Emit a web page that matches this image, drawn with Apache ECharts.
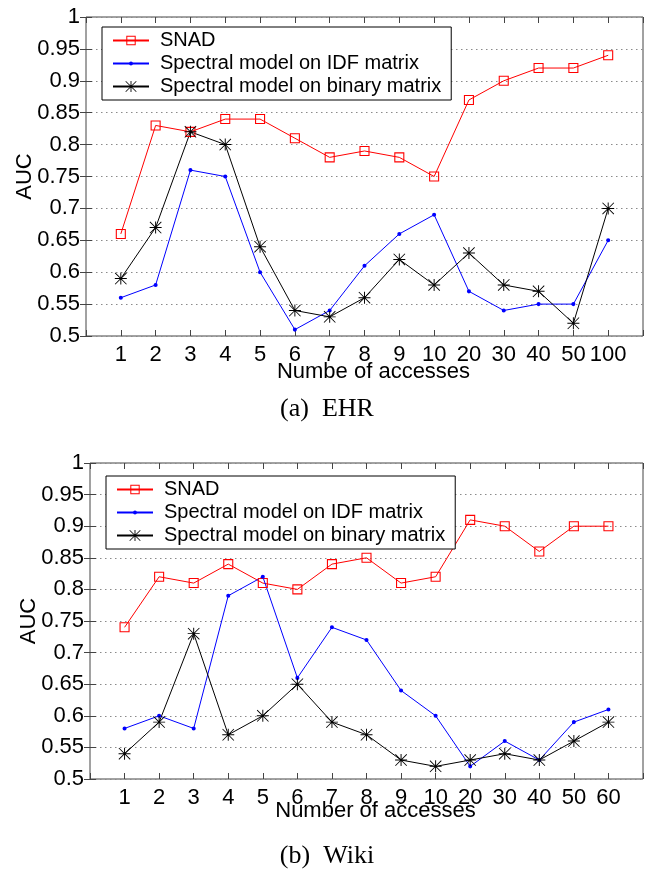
<!DOCTYPE html>
<html>
<head>
<meta charset="utf-8">
<script src="https://cdn.jsdelivr.net/npm/echarts@6/dist/echarts.min.js"></script>
<style>
html,body{margin:0;padding:0;background:#fff;}
#c{width:654px;height:877px;}
</style>
</head>
<body>
<div id="c"></div>
<script>
// ---- data ----
const catsEHR = ['1','2','3','4','5','6','7','8','9','10','20','30','40','50','100'];
const catsWiki = ['1','2','3','4','5','6','7','8','9','10','20','30','40','50','60'];
const seriesNames = ['SNAD','Spectral model on IDF matrix','Spectral model on binary matrix'];

const ehrSNAD   = [0.66,0.83,0.82,0.84,0.84,0.81,0.78,0.79,0.78,0.75,0.87,0.90,0.92,0.92,0.94];
const ehrIDF    = [0.56,0.58,0.76,0.75,0.60,0.51,0.54,0.61,0.66,0.69,0.57,0.54,0.55,0.55,0.65];
const ehrBinary = [0.59,0.67,0.82,0.80,0.64,0.54,0.53,0.56,0.62,0.58,0.63,0.58,0.57,0.52,0.70];

const wikiSNAD   = [0.74,0.82,0.81,0.84,0.81,0.80,0.84,0.85,0.81,0.82,0.91,0.90,0.86,0.90,0.90];
const wikiIDF    = [0.58,0.60,0.58,0.79,0.82,0.66,0.74,0.72,0.64,0.60,0.52,0.56,0.53,0.59,0.61];
const wikiBinary = [0.54,0.59,0.73,0.57,0.60,0.65,0.59,0.57,0.53,0.52,0.53,0.54,0.53,0.56,0.59];

const yMin = 0.5, yMax = 1, yStep = 0.05;
const xLabelTop = 'Numbe of accesses';
const xLabelBottom = 'Number of accesses';
const yLabel = 'AUC';
const captionTop = '(a)  EHR';
const captionBottom = '(b)  Wiki';

// ---- styling ----
const SANS = "'Liberation Sans', Arial, Helvetica, sans-serif";
const SERIF = "'Liberation Serif', 'Times New Roman', serif";
const AXC = '#444';
const squarePath = 'path://M0 0 L0.01 0 Z M100 100 L99.99 100 Z M8 8 L92 8 L92 92 L8 92 Z M17 17 L17 83 L83 83 L83 17 Z';
const dotPath = 'path://M0 0 L0.01 0 Z M100 100 L99.99 100 Z M50 33 A17 17 0 1 1 49.99 33 Z';
const starPath = 'path://M46 0 L54 0 L54 100 L46 100 Z M0 46 L100 46 L100 54 L0 54 Z M5 0 L100 95 L95 100 L0 5 Z M95 0 L100 5 L5 100 L0 95 Z';

function pairs(vals){ return vals.map((v,i)=>[i+1,v]); }

function xAxes(grid, cats, name, gap){
  const base = {
    gridIndex: grid, type:'value', min:0, max:cats.length+1, interval:1,
    axisLine:{show:false}, splitLine:{show:false},
    axisTick:{show:true, inside:true, length:6, lineStyle:{color:AXC}}
  };
  return [
    Object.assign({}, base, {
      position:'bottom',
      axisLabel:{show:true, margin:8, color:'#000', fontSize:22, fontFamily:SANS,
        formatter:(v)=> (v>=1 && v<=cats.length) ? cats[v-1] : ''},
      name:name, nameLocation:'middle', nameGap:gap, nameMoveOverlap:false,
      nameTextStyle:{color:'#000', fontSize:22, fontFamily:SANS, padding:[0,0,0,18]}
    }),
    Object.assign({}, base, {position:'top', axisLabel:{show:false}})
  ];
}
function yAxes(grid){
  const base = {
    gridIndex:grid, type:'value', min:yMin, max:yMax, interval:yStep,
    axisLine:{show:false},
    axisTick:{show:true, inside:true, length:6, lineStyle:{color:AXC}}
  };
  return [
    Object.assign({}, base, {
      position:'left',
      axisLabel:{show:true, margin:6, color:'#000', fontSize:22, fontFamily:SANS,
        formatter:(v)=> String(+v.toFixed(2))},
      splitLine:{show:true, lineStyle:{color:'#8a8a8a', width:1, type:[1.5,3.5]}},
      name:yLabel, nameLocation:'middle', nameGap:50, nameRotate:90, nameMoveOverlap:false,
      nameTextStyle:{color:'#000', fontSize:22, fontFamily:SANS}
    }),
    Object.assign({}, base, {position:'right', axisLabel:{show:false}, splitLine:{show:false}})
  ];
}
function mkSeries(axis, snad, idf, bin){
  const common = {type:'line', xAxisIndex:axis, yAxisIndex:axis, z:3, silent:true};
  return [
    Object.assign({}, common, {name:seriesNames[0], data:pairs(snad),
      symbol:squarePath, symbolSize:12, showAllSymbol:true,
      lineStyle:{color:'#ff0000', width:1}, itemStyle:{color:'#ff0000'}}),
    Object.assign({}, common, {name:seriesNames[1], data:pairs(idf),
      symbol:dotPath, symbolSize:12,
      lineStyle:{color:'#0000ff', width:1}, itemStyle:{color:'#0000ff'}}),
    Object.assign({}, common, {name:seriesNames[2], data:pairs(bin),
      symbol:starPath, symbolSize:12,
      lineStyle:{color:'#000', width:1}, itemStyle:{color:'#000'}})
  ];
}
function mkLegend(left, top){
  return {
    data:seriesNames, orient:'vertical', left:left, top:top,
    padding:[2,10,2,10], itemGap:0, itemWidth:36, itemHeight:14,
    textStyle:{fontSize:20, color:'#000', fontFamily:SANS, lineHeight:23, padding:[0,0,0,6]},
    borderColor:'#000', borderWidth:1, backgroundColor:'#fff', borderRadius:0,
    selectedMode:false, z:10
  };
}

const chart = echarts.init(document.getElementById('c'), null, {renderer:'canvas'});
chart.setOption({
  animation:false,
  backgroundColor:'#fff',
  grid:[
    {left:86, top:17, right:11, height:319, show:true, borderColor:AXC, borderWidth:1, backgroundColor:'transparent'},
    {left:90, top:463, right:11, height:316, show:true, borderColor:AXC, borderWidth:1, backgroundColor:'transparent'}
  ],
  xAxis:[].concat(xAxes(0, catsEHR, xLabelTop, 25), xAxes(1, catsWiki, xLabelBottom, 21)),
  yAxis:[].concat(yAxes(0), yAxes(1)),
  legend:[mkLegend(102,27), mkLegend(106,476)],
  series:[].concat(
    mkSeries(0, ehrSNAD, ehrIDF, ehrBinary),
    mkSeries(2, wikiSNAD, wikiIDF, wikiBinary)
  ),
  graphic:[
    {type:'text', left:'center', top:396, style:{text:captionTop, fontSize:26, fontFamily:SERIF, fill:'#000'}},
    {type:'text', left:'center', top:843, style:{text:captionBottom, fontSize:26, fontFamily:SERIF, fill:'#000'}}
  ]
});
</script>
</body>
</html>
